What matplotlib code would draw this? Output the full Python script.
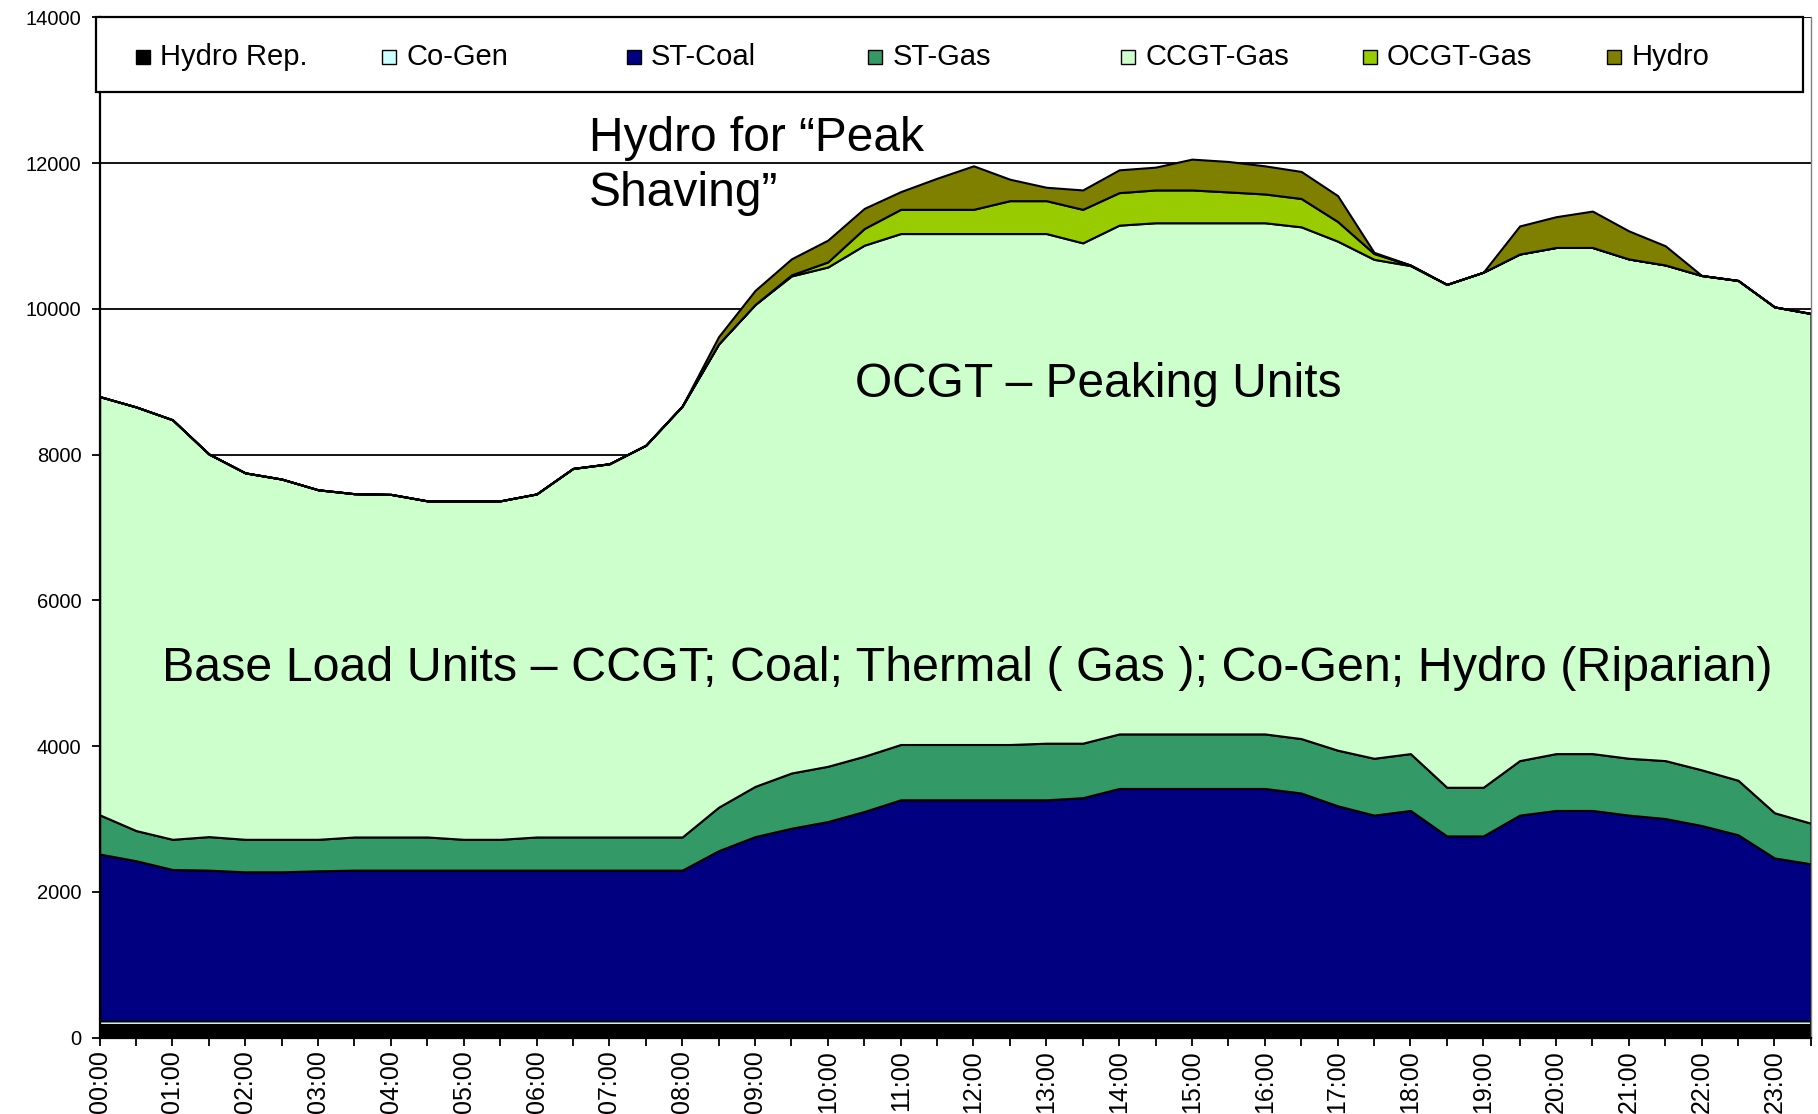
import numpy as np
import matplotlib
matplotlib.use('Agg')
import matplotlib.pyplot as plt
from matplotlib.patches import Rectangle

plt.rcParams['font.family'] = ['Liberation Sans', 'DejaVu Sans']

# half-hour slots 00:00 .. 23:30
times = ['%02d:%02d' % (h, m) for h in range(24) for m in (0, 30)]

series_names = ['Hydro Rep.', 'Co-Gen', 'ST-Coal', 'ST-Gas', 'CCGT-Gas', 'OCGT-Gas', 'Hydro']
series_colors = ['#000000', '#CCFFFF', '#000080', '#339966', '#CCFFCC', '#99CC00', '#808000']

hydro_rep = [175] * 48
co_gen = [55] * 48
st_coal = [2290, 2198, 2078, 2069, 2046, 2046, 2060, 2069, 2069, 2069,
           2069, 2069, 2069, 2069, 2069, 2069, 2069, 2336, 2529, 2644,
           2736, 2874, 3034, 3034, 3034, 3034, 3034, 3063, 3190, 3190,
           3190, 3190, 3190, 3127, 2952, 2824, 2888, 2538, 2538, 2824,
           2888, 2888, 2824, 2777, 2681, 2554, 2236, 2156]
st_gas = [538, 414, 414, 460, 446, 446, 432, 455, 455, 455,
          423, 423, 455, 455, 455, 455, 455, 597, 689, 758,
          758, 758, 759, 759, 759, 759, 777, 748, 748, 748,
          748, 748, 748, 747, 763, 780, 780, 668, 668, 748,
          780, 780, 780, 795, 764, 748, 620, 557]
ccgt_gas = [5739, 5813, 5757, 5250, 5028, 4943, 4796, 4710, 4701, 4612,
            4644, 4644, 4707, 5057, 5121, 5375, 5913, 6357, 6612, 6820,
            6851, 7012, 7011, 7011, 7011, 7011, 6993, 6865, 6981, 7014,
            7014, 7014, 7014, 7022, 6985, 6846, 6696, 6900, 7067, 6951,
            6945, 6945, 6851, 6801, 6783, 6858, 6941, 6994]
ocgt_gas = [0] * 19 + [15, 70, 229, 332, 332, 332, 451, 451, 460, 446, 450,
                       450, 423, 395, 389, 270, 80, 6] + [0] * 11
hydro = [0] * 17 + [100, 193, 220, 299, 276, 243, 427, 597, 294, 184, 266,
                    313, 313, 423, 418, 386, 371, 355, 16, 3, 0, 0, 385,
                    422, 499, 385, 263] + [0] * 4

x = np.arange(len(times))

fig = plt.figure(figsize=(18.18, 11.14), dpi=100)
ax = fig.add_axes([0.0548, 0.0685, 0.9961 - 0.0548, 0.9844 - 0.0685])

ax.set_axisbelow(True)
ax.yaxis.grid(True, color='black', linewidth=1.3)
ax.stackplot(x, hydro_rep, co_gen, st_coal, st_gas, ccgt_gas, ocgt_gas, hydro,
             colors=series_colors, edgecolor='black', linewidth=1.5, zorder=2)

ax.set_xlim(0, 47)
ax.set_ylim(0, 14000)
ax.set_yticks(np.arange(0, 14001, 2000))
ax.set_xticks(x[::2])
ax.set_xticklabels(times[::2], rotation=90)
ax.set_xticks(x[1::2], minor=True)
ax.tick_params(axis='y', labelsize=14.5, length=6, width=1.3, pad=7)
ax.tick_params(axis='x', which='both', labelsize=18, length=6, width=1.3, pad=3)

ax.spines['top'].set_visible(False)
ax.spines['right'].set_color('#808080')
ax.spines['right'].set_linewidth(1.0)
ax.spines['left'].set_linewidth(1.6)
ax.spines['bottom'].set_linewidth(1.6)

# legend box along the top, entries evenly spaced like the original
ax.add_patch(Rectangle((-0.002, 0.9270), 0.9975, 0.0730, transform=ax.transAxes,
                       facecolor='white', edgecolor='black', linewidth=1.6,
                       zorder=5, clip_on=False))
leg_x = [0.021, 0.165, 0.308, 0.449, 0.597, 0.738, 0.881]
for lx, name, col in zip(leg_x, series_names, series_colors):
    ax.add_patch(Rectangle((lx, 0.9615 - 0.0068), 0.0082, 0.0137, transform=ax.transAxes,
                           facecolor=col, edgecolor='black', linewidth=1.0, zorder=6))
    ax.text(lx + 0.0142, 0.9615, name, transform=ax.transAxes, fontsize=21,
            va='center', ha='left', zorder=6)

ax.text(13.44, 11960, 'Hydro for \u201cPeak\nShaving\u201d', fontsize=34.5,
        ha='left', va='center', linespacing=1.27, zorder=4)
ax.text(27.42, 8960, 'OCGT \u2013 Peaking Units', fontsize=34.5,
        ha='center', va='center', zorder=4)
ax.text(23.82, 5059, 'Base Load Units \u2013 CCGT; Coal; Thermal ( Gas ); Co-Gen; Hydro (Riparian)',
        fontsize=34.8, ha='center', va='center', zorder=4)

fig.savefig('out.png', dpi=100)
